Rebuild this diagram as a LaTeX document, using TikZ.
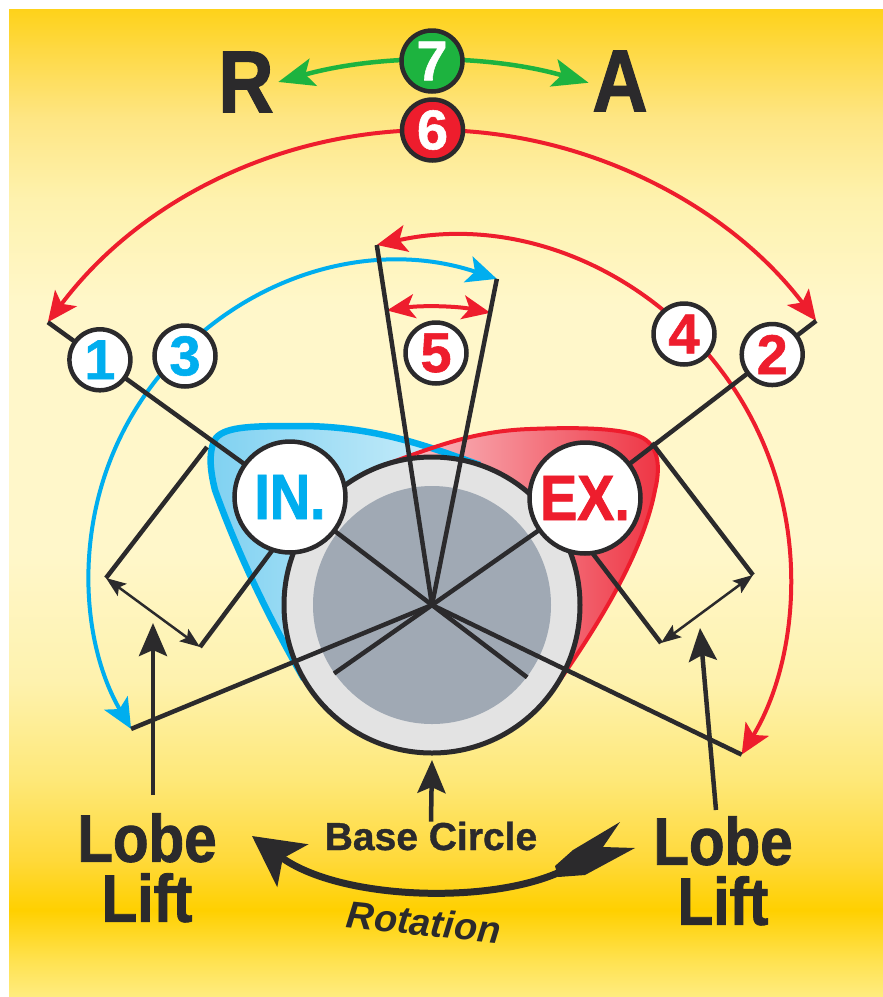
\documentclass[tikz,border=0pt]{standalone}
\usepackage{fontspec}
\setmainfont{Liberation Sans}[BoldFeatures={FakeBold=1}]
\newfontfamily\condfont{Liberation Sans}[FakeStretch=0.87, BoldFeatures={FakeBold=1.3}]
\usepackage{xcolor}
\usetikzlibrary{arrows.meta, calc}

\definecolor{ink}{HTML}{2B2A2C}
\definecolor{incyan}{HTML}{00AEEF}
\definecolor{exred}{HTML}{EE1D2D}
\definecolor{odgreen}{HTML}{1DB33F}
\definecolor{ringgray}{HTML}{E3E3E3}
\definecolor{discgray}{HTML}{A0A9B4}
\definecolor{inlobedark}{HTML}{7FD1F1}
\definecolor{inlobelight}{HTML}{D4F1FB}
\definecolor{exlobelight}{HTML}{FBCBCF}
\definecolor{exlobedark}{HTML}{EE3443}
\definecolor{bgA}{HTML}{FFEC80}
\definecolor{bgB}{HTML}{FFE250}
\definecolor{bgC}{HTML}{FFD000}
\definecolor{bgD}{HTML}{FFD93A}
\definecolor{bgE}{HTML}{FEE878}
\definecolor{bgF}{HTML}{FEF2AE}
\definecolor{bgG}{HTML}{FFF7CA}
\definecolor{bgH}{HTML}{FEF2AE}
\definecolor{bgI}{HTML}{FEE685}
\definecolor{bgJ}{HTML}{FED944}
\definecolor{bgK}{HTML}{FED21A}
\pgfdeclareverticalshading{bgfade}{100bp}{color(0bp)=(bgA); color(25bp)=(bgA);
  color(26.85bp)=(bgB); color(29.4bp)=(bgC); color(31.95bp)=(bgD); color(36bp)=(bgE);
  color(41bp)=(bgF); color(47.5bp)=(bgG); color(60bp)=(bgG); color(65.35bp)=(bgH);
  color(69.4bp)=(bgI); color(72.9bp)=(bgJ); color(75bp)=(bgK); color(100bp)=(bgK)}

\begin{document}
\begin{tikzpicture}[x=1pt, y=-1pt,
    leader/.style={draw=ink, line width=4.5pt},
    numdisc/.style={circle, draw=ink, line width=4.5pt, fill=white, minimum size=61pt, inner sep=0pt, font=\fontsize{56}{56}\selectfont\bfseries},
    valvedisc/.style={circle, draw=ink, line width=4.5pt, fill=white, minimum size=111pt, inner sep=0pt, font=\condfont\fontsize{64}{64}\selectfont\bfseries},
    bigletter/.style={text=ink, inner sep=0pt, font=\condfont\fontsize{88}{88}\selectfont\bfseries},
    liftlabel/.style={text=ink, inner sep=0pt, align=center, anchor=north, font=\condfont\fontsize{67}{60}\selectfont\bfseries},
    redspan/.style={draw=exred, line width=4pt, >={Stealth[length=30pt,width=27pt,inset=7pt]}, <->},
    bluespan/.style={draw=incyan, line width=4pt, >={Stealth[length=30pt,width=27pt,inset=7pt]}, <->},
    greenspan/.style={draw=odgreen, line width=4.5pt, >={Stealth[length=36pt,width=28pt,inset=8pt]}, <->},
    liftdim/.style={draw=ink, line width=2.5pt, >={Stealth[length=20pt,width=15pt,inset=4pt]}, <->},
    pointer/.style={draw=ink, line width=4.5pt, -{Stealth[length=33pt,width=28pt,inset=6pt]}}]

  \fill[white] (0,0) rectangle (883,997);
  \shade[shading=bgfade] (9,9) rectangle (883,997);
  \useasboundingbox (0,0) rectangle (883,997);

  \coordinate (cam) at (432,605);
  \coordinate (inC) at (290,497);
  \coordinate (exC) at (585,498);
  \coordinate (inArcO) at (399,573);
  \coordinate (exArcO) at (450,578);
  \coordinate (overlapO) at (432.5,611);
  \coordinate (raO) at (432,636);
  \path (inArcO) ++(288.4:310) coordinate (inTop)
        (inArcO) ++(149.8:310) coordinate (inEnd)
        (exArcO) ++(257.6:341) coordinate (exTop)
        (exArcO) ++(391.2:341) coordinate (exEnd)
        (overlapO) ++(216.9:481) coordinate (ovL)
        (overlapO) ++(322.9:481) coordinate (ovR);

  \shade[left color=inlobedark, right color=inlobelight]
    (480,465) .. controls (437,450) and (380,426) .. (300,426)
    .. controls (255,426) and (226,426) .. (216,438)
    .. controls (208,450) and (210,470) .. (215,490)
    .. controls (240,560) and (274,627) .. (304,679) -- (cam) -- cycle;
  \shade[left color=exlobelight, right color=exlobedark]
    (384,465) .. controls (427,450) and (470,431) .. (530,429)
    .. controls (580,427) and (625,428) .. (643,438)
    .. controls (660,448) and (660,470) .. (655,490)
    .. controls (642,560) and (587,641) .. (553,690) -- (cam) -- cycle;
  \draw[incyan, line width=6.5pt]
    (480,465) .. controls (437,450) and (380,426) .. (300,426)
    .. controls (255,426) and (226,426) .. (216,438)
    .. controls (208,450) and (210,470) .. (215,490)
    .. controls (240,560) and (274,627) .. (304,679);
  \draw[exred, line width=4pt]
    (384,465) .. controls (427,450) and (470,431) .. (530,429)
    .. controls (580,427) and (625,428) .. (643,438)
    .. controls (660,448) and (660,470) .. (655,490)
    .. controls (642,560) and (587,641) .. (553,690);

  \draw[ink, line width=5pt, fill=ringgray] (cam) circle[radius=148];
  \fill[discgray] (cam) circle[radius=119];

  \draw[greenspan] (raO) ++(254.5:575) arc[start angle=254.5, end angle=285.8, radius=575];
  \draw[redspan] (ovL) arc[start angle=216.9, end angle=322.9, radius=481];
  \draw[bluespan] (inTop) arc[start angle=288.4, end angle=149.8, radius=310];
  \draw[redspan] (exTop) arc[start angle=257.6, end angle=391.2, radius=341];
  \draw[redspan, >={Stealth[length=28pt,width=24pt,inset=7pt]}]
    (cam) ++(261.3:298) arc[start angle=261.3, end angle=281.3, radius=298];

  \draw[leader] (cam) -- (exTop);
  \draw[leader] (cam) -- (inTop);
  \draw[leader] (cam) -- (inEnd);
  \draw[leader] (cam) -- (exEnd);
  \draw[leader] (inC) -- ($(cam)!-0.67!(inC)$);
  \draw[leader] (exC) -- ($(cam)!-0.64!(exC)$);
  \draw[leader] (ovL) -- (inC);
  \draw[leader] (ovR) -- (exC);

  \coordinate (inCorner) at (207,447);
  \coordinate (inLiftA) at (106,578);
  \coordinate (inLiftB) at (200,647);
  \coordinate (inHeel) at (283,536);
  \coordinate (exCorner) at (652,443);
  \coordinate (exLiftA) at (753,575);
  \coordinate (exLiftB) at (661,643);
  \coordinate (exHeel) at (584,542);
  \draw[leader] (inCorner) -- (inLiftA);
  \draw[leader] (inLiftB) -- (inHeel);
  \draw[liftdim] (inLiftA) -- (inLiftB);
  \draw[leader] (exCorner) -- (exLiftA);
  \draw[leader] (exLiftB) -- (exHeel);
  \draw[liftdim] (exLiftA) -- (exLiftB);

  \node[valvedisc, text=incyan] (inlobe) at (inC) {IN.};
  \node[valvedisc, text=exred] (exlobe) at (exC) {EX.};
  \node[numdisc, text=incyan] (n1) at ($(ovL)!0.215!(inC)$) {1};
  \node[numdisc, text=exred] (n2) at ($(ovR)!0.19!(exC)$) {2};
  \node[numdisc, text=incyan] (n3) at (185,356) {3};
  \node[numdisc, text=exred] (n4) at (684,334) {4};
  \node[numdisc, text=exred] (n5) at (436,353) {5};
  \node[numdisc, fill=exred, text=white] (n6) at (432.5,130) {6};
  \node[numdisc, fill=odgreen, text=white] (n7) at (432,61) {7};

  \node[bigletter] (retard) at (246,82) {R};
  \node[bigletter] (advance) at (620,81) {A};
  \node[liftlabel] (inLiftLbl) at (147,813) {Lobe\\Lift};
  \node[liftlabel] (exLiftLbl) at (723,816) {Lobe\\Lift};
  \node[text=ink, inner sep=0pt, anchor=base, font=\fontsize{39}{39}\selectfont\bfseries] (baseLbl) at (431,850) {Base Circle};
  \node[text=ink, inner sep=0pt, rotate=-6, font=\fontsize{38}{38}\selectfont\bfseries\itshape] (turnLbl) at (424,922) {Rotation};

  \coordinate (inLiftTail) at (153,795);
  \coordinate (inLiftHead) at (153,623);
  \coordinate (exLiftTail) at (716,810);
  \coordinate (exLiftHead) at (700,628);
  \coordinate (baseHead) at (432,760);
  \draw[pointer] (inLiftTail) -- (inLiftHead);
  \draw[pointer] (exLiftTail) -- (exLiftHead);
  \draw[pointer] (baseLbl.north) -- (baseHead);

  \coordinate (turnStart) at (562,871);
  \coordinate (turnTip) at (252,836);
  \draw[ink, line width=7pt, -{Stealth[length=50pt,width=52pt,inset=12pt]}]
    (turnStart) .. controls (490,905) and (340,900) .. (turnTip);
  \fill[ink] (555,866) -- (573,850) -- (620,822) -- (603,847) -- (635,848)
    -- (585,875) -- (558,877) -- cycle;
\end{tikzpicture}
\end{document}
